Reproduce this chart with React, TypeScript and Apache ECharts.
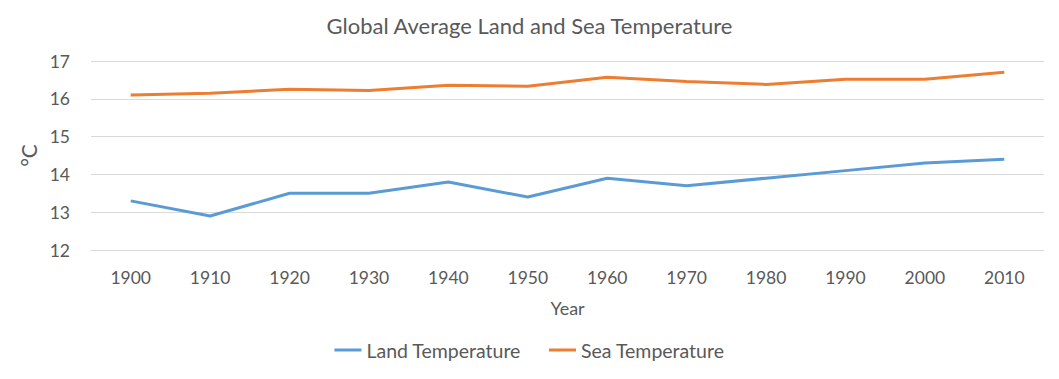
import React, { useEffect, useRef } from "react";
import * as echarts from "echarts";

const years = ["1900", "1910", "1920", "1930", "1940", "1950", "1960", "1970", "1980", "1990", "2000", "2010"];
const landTemp = [13.3, 12.9, 13.5, 13.5, 13.8, 13.4, 13.9, 13.7, 13.9, 14.1, 14.3, 14.4];
const seaTemp = [16.1, 16.15, 16.25, 16.22, 16.36, 16.33, 16.57, 16.46, 16.38, 16.52, 16.52, 16.7];

const FONT = "Lato, 'Open Sans', sans-serif";
const TEXT = "#595959";

export default function App() {
  const ref = useRef<HTMLDivElement>(null);
  useEffect(() => {
    if (!ref.current) return;
    const chart = echarts.init(ref.current, null, { renderer: "svg" });
    chart.setOption({
      animation: false,
      textStyle: { fontFamily: FONT, color: TEXT },
      title: {
        text: "Global Average Land and Sea Temperature",
        left: "center",
        top: 9,
        textStyle: { fontFamily: FONT, color: TEXT, fontSize: 22, fontWeight: "normal" },
      },
      grid: { left: 91, right: 15, top: 61, bottom: 129, containLabel: false },
      legend: {
        bottom: 14,
        left: "center",
        itemWidth: 27,
        itemHeight: 3,
        itemGap: 28,
        icon: "rect",
        textStyle: { fontFamily: FONT, color: TEXT, fontSize: 19.5 },
        data: ["Land Temperature", "Sea Temperature"],
      },
      xAxis: {
        type: "category",
        data: years,
        boundaryGap: true,
        name: "Year",
        nameLocation: "middle",
        nameGap: 49,
        nameTextStyle: { fontFamily: FONT, color: TEXT, fontSize: 18 },
        axisLine: { show: true, lineStyle: { color: "#d9d9d9" } },
        axisTick: { show: false },
        axisLabel: { fontFamily: FONT, color: TEXT, fontSize: 17.5, margin: 18 },
      },
      yAxis: {
        type: "value",
        min: 12,
        max: 17,
        interval: 1,
        name: "°C",
        nameLocation: "middle",
        nameGap: 48,
        nameTextStyle: { fontFamily: FONT, color: TEXT, fontSize: 21 },
        axisLine: { show: false },
        axisTick: { show: false },
        axisLabel: { fontFamily: FONT, color: TEXT, fontSize: 17.5, margin: 21 },
        splitLine: { lineStyle: { color: "#d9d9d9" } },
      },
      series: [
        {
          name: "Land Temperature",
          type: "line",
          data: landTemp,
          symbol: "none",
          lineStyle: { color: "#5b9bd5", width: 3 },
          itemStyle: { color: "#5b9bd5" },
        },
        {
          name: "Sea Temperature",
          type: "line",
          data: seaTemp,
          symbol: "none",
          lineStyle: { color: "#ed7d31", width: 3 },
          itemStyle: { color: "#ed7d31" },
        },
      ],
    });
    return () => chart.dispose();
  }, []);
  return <div ref={ref} style={{ width: 1059, height: 379, position: "absolute", left: 0, top: 0 }} />;
}
